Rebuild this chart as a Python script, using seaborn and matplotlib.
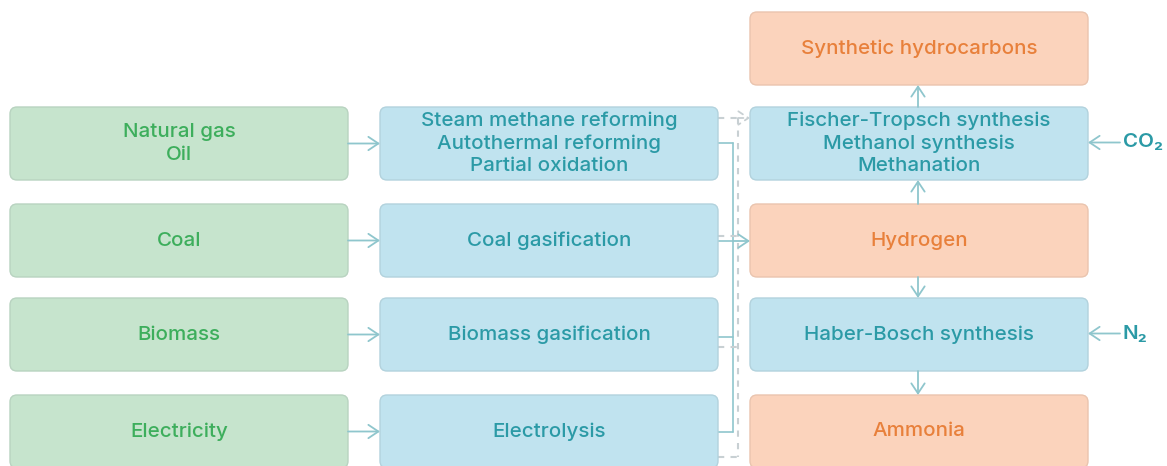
import matplotlib
matplotlib.use("Agg")
import matplotlib.pyplot as plt
import seaborn as sns
from matplotlib.patches import FancyBboxPatch

# ---- data ----
sources = ["Natural gas\nOil", "Coal", "Biomass", "Electricity"]
processes = ["Steam methane reforming\nAutothermal reforming\nPartial oxidation",
             "Coal gasification", "Biomass gasification", "Electrolysis"]
products = ["Synthetic hydrocarbons",
            "Fischer-Tropsch synthesis\nMethanol synthesis\nMethanation",
            "Hydrogen", "Haber-Bosch synthesis", "Ammonia"]
product_kind = ["product", "process", "product", "process", "product"]
feed_labels = ["CO₂", "N₂"]
feed_rows = [1, 3]

# ---- style ----
sns.set_theme(style="white")
plt.rcParams["font.family"] = ["Inter", "DejaVu Sans"]

fill = {"source": "#c6e4cd", "process": "#c0e3ef", "product": "#fbd3bc"}
edge = {"source": "#b8d3c0", "process": "#b2d2dd", "product": "#eac4ae"}
txt = {"source": "#3dae5c", "process": "#2b9aa6", "product": "#e8803b"}
arrow_c = "#8fc6cd"
dash_c = "#c8d0d3"

col_x = [10, 380, 750]
box_w = 338
row_top = [107, 204, 298, 395]
box_h = 73
top_box = 12

fig = plt.figure(figsize=(11.67, 4.66), dpi=100)
ax = fig.add_axes([0, 0, 1, 1])
ax.set_xlim(0, 1167)
ax.set_ylim(466, 0)
ax.axis("off")


def box(x, y, label, kind, h=box_h):
    ax.add_patch(FancyBboxPatch((x, y), box_w, h,
                                boxstyle="round,pad=0,rounding_size=7",
                                fc=fill[kind], ec=edge[kind], lw=1.0, zorder=2))
    ax.text(x + box_w / 2, y + h / 2, label, ha="center", va="center",
            fontsize=14.8, fontweight="medium", color=txt[kind],
            linespacing=1.3, zorder=3)


def arrow(x0, y0, x1, y1, color=arrow_c, ls="-"):
    ax.annotate("", xy=(x1, y1), xytext=(x0, y0),
                arrowprops=dict(arrowstyle="->,head_length=0.6,head_width=0.4",
                                color=color, lw=1.3, linestyle=ls,
                                shrinkA=0, shrinkB=0), zorder=4)


for i, s in enumerate(sources):
    box(col_x[0], row_top[i], s, "source")
for i, p in enumerate(processes):
    box(col_x[1], row_top[i], p, "process")

prod_tops = [top_box] + row_top
for i, p in enumerate(products):
    box(col_x[2], prod_tops[i], p, product_kind[i])

# source -> process
for t in row_top:
    yc = t + box_h / 2
    arrow(col_x[0] + box_w, yc, col_x[1], yc)

# hydrogen route (solid)
xr = col_x[1] + box_w
xs = 733
solid_y = [143, 241, 337, 432]
ax.plot([xs, xs], [solid_y[0], solid_y[-1]], color=arrow_c, lw=1.2, zorder=1)
for y in solid_y:
    ax.plot([xr, xs], [y, y], color=arrow_c, lw=1.2, zorder=1)
arrow(xs, 241, col_x[2], 241)

# carbon route (dashed)
xd = 738
dash_y = [118, 236, 347, 457]
ax.plot([xd, xd], [dash_y[0], dash_y[-1]], color=dash_c, lw=1.5,
        ls=(0, (3, 3)), zorder=1)
for y in dash_y[1:]:
    ax.plot([xr, xd], [y, y], color=dash_c, lw=1.5, ls=(0, (3, 3)), zorder=1)
ax.plot([xr, xd], [118, 118], color=dash_c, lw=1.5, ls=(0, (3, 3)), zorder=1)
arrow(xd, 118, col_x[2], 118, color=dash_c, ls=(0, (3, 3)))

# vertical arrows in product column
xm = col_x[2] + box_w / 2 - 1
arrow(xm, row_top[0], xm, top_box + box_h)
arrow(xm, row_top[1], xm, row_top[0] + box_h)
arrow(xm, row_top[1] + box_h, xm, row_top[2])
arrow(xm, row_top[2] + box_h, xm, row_top[3])

# feed gases
for lab, r in zip(feed_labels, feed_rows):
    yc = prod_tops[r] + box_h / 2 - 1
    arrow(1120, yc, col_x[2] + box_w, yc)
    ax.text(1123, yc, lab, ha="left", va="center", fontsize=14.8,
            fontweight="semibold", color=txt["process"])

fig.savefig("out.png", dpi=100, facecolor="white")
